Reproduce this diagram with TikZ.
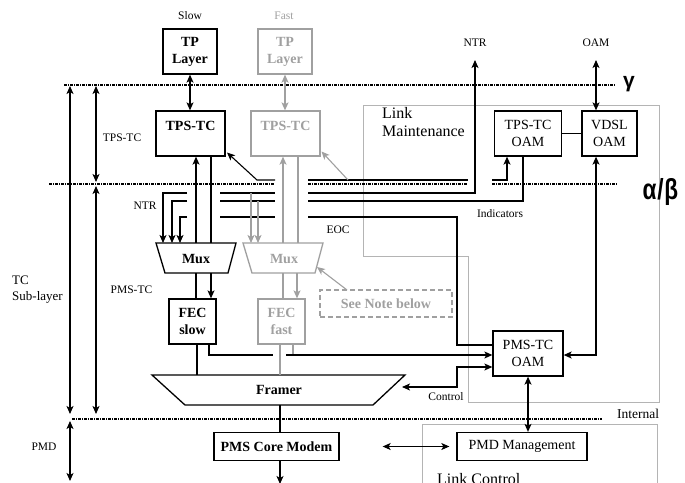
\documentclass[tikz,border=0pt]{standalone}
\usepackage{fontspec}
\usepackage{graphicx}
\setmainfont{Liberation Serif}
\newfontfamily\gkfont{Liberation Sans}
\usetikzlibrary{arrows.meta,calc}
\definecolor{fg}{RGB}{160,160,160}
\definecolor{lbc}{RGB}{180,180,180}
\tikzset{
  bx/.style={draw,line width=1.3pt,inner sep=0pt,align=center,font=\fontsize{14}{17}\selectfont},
  bbx/.style={bx,font=\fontsize{14}{17}\selectfont\bfseries},
  gbx/.style={bbx,draw=fg,text=fg},
  btxt/.style={inner sep=0pt,font=\fontsize{14}{17}\selectfont\bfseries},
  lbl/.style={inner sep=0pt,font=\fontsize{11.5}{14}\selectfont},
  big/.style={inner sep=0pt,font=\fontsize{16}{18}\selectfont},
  gk/.style={inner sep=0pt,anchor=base,font=\gkfont\bfseries\fontsize{21}{23}\selectfont},
  ln/.style={line width=1.1pt},
  gln/.style={line width=1.1pt,draw=fg},
  shp/.style={line width=1.3pt},
  gshp/.style={line width=1.3pt,draw=fg},
  lb/.style={line width=0.9pt,draw=lbc},
  layer/.style={line width=1.3pt,dash pattern=on 3pt off 1pt on 1pt off 1pt},
  >={Stealth[length=8pt,width=7pt,inset=2pt]}
}
\begin{document}
\begin{tikzpicture}[x=1pt,y=-1pt]
\useasboundingbox (0,0) rectangle (685,482);
\clip (0,0) rectangle (685,482);

% gray frames
\draw[lb] (363,105) -- (659,105) -- (659,402) -- (468,402) -- (468,256) -- (363,256) -- cycle;
\draw[lb] (422,424) rectangle (657,510);
\node[big,anchor=base west,align=left] (lmt) at (382,136) {Link\\Maintenance};
\node[big,anchor=base west] (lct) at (437,484) {Link Control};

% layer lines
\draw[layer] (64,85) -- (615,85);
\draw[layer] (49,184) -- (275,184);
\draw[layer] (308,184) -- (468,184);
\draw[layer] (492,184) -- (618,184);
\draw[layer] (72,419) -- (602,419);
\node[gk] (gam) at (629,87) {γ};
\node[gk,font=\gkfont\bfseries\fontsize{29}{31}\selectfont] (ab) at (660.5,199) {\scalebox{0.78}[1]{α\kern1pt/\kern1ptβ}};
\node[lbl,font=\fontsize{13.5}{16}\selectfont] (intl) at (638,414) {Internal};

% top labels
\node[lbl] (slow) at (190,16) {Slow};
\node[lbl,text=fg] (fast) at (284,16) {Fast};
\node[lbl] (ntrl) at (475,43) {NTR};
\node[lbl] (oaml) at (596,43) {OAM};

% boxes
\node[bbx,minimum width=54pt,minimum height=45pt] (tpS) at (190,51.5) {TP\\Layer};
\node[gbx,minimum width=54pt,minimum height=45pt] (tpF) at (285,51.5) {TP\\Layer};
\node[bbx,minimum width=69pt,minimum height=45pt] (tpstcS) at (190.5,133.5) {};
\node[btxt] (tpstcSl) at (190.5,126) {TPS-TC};
\node[gbx,minimum width=69pt,minimum height=45pt] (tpstcF) at (285.5,133.5) {};
\node[btxt,text=fg] (tpstcFl) at (285.5,126) {TPS-TC};
\node[bbx,minimum width=47pt,minimum height=45pt] (fecS) at (192.5,321.5) {FEC\\slow};
\node[gbx,minimum width=47pt,minimum height=45pt] (fecF) at (281.5,321.5) {FEC\\fast};
\node[bbx,minimum width=125pt,minimum height=28pt] (pms) at (276.5,446.5) {PMS Core Modem};
\node[bx,minimum width=130pt,minimum height=28pt] (pmdm) at (522,446.5) {PMD Management};
\node[bx,minimum width=70pt,minimum height=45pt] (pmsoam) at (528,353.5) {PMS-TC\\OAM};
\node[bx,minimum width=67pt,minimum height=45pt] (tpsoam) at (528,133.5) {TPS-TC\\OAM};
\node[bx,minimum width=55pt,minimum height=45pt] (vdsl) at (609.5,133.5) {VDSL\\OAM};
\node[gbx,dash pattern=on 5pt off 3pt,minimum width=132pt,minimum height=27pt] (note) at (386,303.5) {See Note below};

% mux and framer shapes
\draw[shp] (156,243) -- (236,243) -- (228,273) -- (165,273) -- cycle;
\node[btxt] (muxS) at (196,258.5) {Mux};
\draw[gshp] (243,243) -- (323,243) -- (315,273) -- (252,273) -- cycle;
\node[btxt,text=fg] (muxF) at (284,258.5) {Mux};
\draw[shp] (152,375) -- (405,375) -- (373,405) -- (185,405) -- cycle;
\node[btxt] (framer) at (279,389.5) {Framer};

% side labels
\node[lbl] (ltps) at (122,138) {TPS-TC};
\node[lbl] (lntr) at (145,206) {NTR};
\node[lbl] (leoc) at (338,230) {EOC};
\node[lbl] (lind) at (500,214) {Indicators};
\node[lbl,font=\fontsize{13}{16}\selectfont,align=left,anchor=west] (ltc) at (12,290) {TC\\Sub-layer};
\node[lbl] (lpms) at (131.5,290) {PMS-TC};
\node[lbl] (lpmd) at (44,447) {PMD};
\node[lbl] (lctl) at (446,397) {Control};

% left extent arrows
\draw[ln,<->] (70,86) -- (70,414);
\draw[ln,<->] (96,86) -- (96,182);
\draw[ln,<->] (96,186) -- (96,414);
\draw[ln,<->] (70,421) -- (70,481);

% TP <-> TPS-TC
\draw[ln,<->] (tpS.south) -- (tpS.south |- tpstcS.north);
\draw[gln,<->] (tpF.south) -- (tpF.south |- tpstcF.north);

% TPS-TC <-> Mux, Mux -> FEC
\coordinate (mSa) at (196,243); \coordinate (mSb) at (211,243);
\coordinate (mSc) at (196,273); \coordinate (mSd) at (211,273);
\draw[ln,->] (mSa) -- (mSa |- tpstcS.south);
\draw[ln] (tpstcS.south -| mSb) -- (mSb);
\draw[ln] (mSc) -- (mSc |- fecS.north);
\draw[ln,->] (mSd) -- (mSd |- fecS.north);
\coordinate (mFa) at (283,243); \coordinate (mFb) at (298,243);
\coordinate (mFc) at (283,273); \coordinate (mFd) at (297,273);
\draw[gln,->] (mFa) -- (mFa |- tpstcF.south);
\draw[gln] (tpstcF.south -| mFb) -- (mFb);
\draw[gln] (mFc) -- (mFc |- fecF.north);
\draw[gln,->] (mFd) -- (mFd |- fecF.north);

% FEC -> framer
\coordinate (frT1) at (197,375); \coordinate (frT2) at (280,375);
\draw[ln] (fecS.south -| frT1) -- (frT1);
\draw[gln] (fecF.south -| frT2) -- (frT2);
\coordinate (fs1) at (209,355); \coordinate (fs2) at (286,355); \coordinate (ff1) at (293,355);
\draw[ln] (fecS.south -| fs1) -- (fs1) -- (273,355);
\draw[gln] (fecF.south -| ff1) -- (ff1);
\draw[ln,->] (fs2) -- (fs2 -| pmsoam.west);

% framer -> PMS core modem
\coordinate (frB) at (280,405);
\draw[ln] (frB) -- (frB |- pms.north);
\coordinate (pmsout) at (280,484);
\draw[ln,->] (pms.south -| frB) -- (pmsout);
\draw[ln,<->] ($(pms.east)+(43,0)$) -- ($(pmdm.west)+(-7,0)$);
\draw[ln,<->] (pmsoam.south) -- (pmsoam.south |- pmdm.north);

% control
\coordinate (ctl) at (402,387); \coordinate (c1) at (457,387); \coordinate (c2) at (457,367);
\draw[ln,<->] (ctl) -- (c1) -- (c2) -- (c2 -| pmsoam.west);

% EOC
\coordinate (e0) at (308,217); \coordinate (e1) at (457,217); \coordinate (e2) at (457,345);
\draw[ln] (e0) -- (e1) -- (e2) -- (e2 -| pmsoam.west);

% VDSL OAM
\coordinate (v1) at (596,355); \coordinate (oamtop) at (596,60);
\draw[ln,<->] (vdsl.south -| v1) -- (v1) -- (v1 -| pmsoam.east);
\draw[ln,<->] (oamtop) -- (vdsl.north -| oamtop);
\draw[ln] (tpsoam.east) -- (vdsl.west);

% NTR up
\coordinate (n0) at (308,193); \coordinate (n1) at (475,193); \coordinate (ntrtop) at (475,60);
\draw[ln,->] (n0) -- (n1) -- (ntrtop);

% Indicators
\coordinate (i0) at (308,201); \coordinate (i1) at (523,201);
\draw[ln] (i0) -- (i1) -- (i1 |- tpsoam.south);

% OAM to TPS-TC
\coordinate (t0) at (275,180); \coordinate (t1) at (257,180); \coordinate (t2) at (227,152.5);
\draw[ln,->] (t0) -- (t1) -- (t2);
\draw[ln] (308,180) -- (468,180);
\coordinate (to0) at (492,180); \coordinate (to1) at (507,180);
\draw[ln,->] (to0) -- (to1) -- (to1 |- tpsoam.south);
\coordinate (g0) at (348,180); \coordinate (g1) at (321.5,151.5);
\draw[gln,->] (g0) -- (g1);

% left horizontal lines
\draw[ln] (220,193) -- (275,193);
\draw[ln] (220,201) -- (275,201);
\draw[ln] (220,217) -- (275,217);
\draw[ln,->] (187,193) -- (163,193) -- (163,243);
\draw[ln,->] (187,201) -- (172,201) -- (172,243);
\draw[ln,->] (187,217) -- (180,217) -- (180,243);
\draw[gln,->] (251,193) -- (251,243);
\draw[gln,->] (258,201) -- (258,243);

% note arrow
\coordinate (nt0) at (347,290); \coordinate (nt1) at (317,267);
\draw[gln,->] (nt0) -- (nt1);
\end{tikzpicture}
\end{document}
